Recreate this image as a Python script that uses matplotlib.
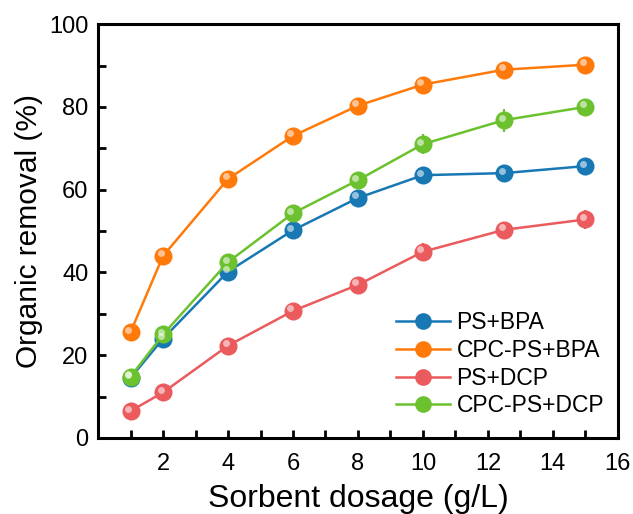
import matplotlib
matplotlib.use("Agg")
import matplotlib.pyplot as plt
import matplotlib.transforms as mtransforms
from matplotlib.lines import Line2D
from matplotlib.ticker import MultipleLocator

plt.rcParams['font.family'] = ['Liberation Sans', 'DejaVu Sans']

dosage = [1, 2, 4, 6, 8, 10, 12.5, 15]

ps_bpa = [14.5, 24.0, 40.2, 50.2, 58.0, 63.5, 64.0, 65.7]
ps_bpa_err = [1.0, 1.2, 1.3, 1.3, 1.5, 1.8, 1.5, 1.2]

cpc_bpa = [25.6, 44.0, 62.6, 73.0, 80.3, 85.4, 89.0, 90.2]
cpc_bpa_err = [1.0, 1.0, 1.0, 1.8, 1.3, 1.8, 1.2, 1.2]

ps_dcp = [6.5, 11.0, 22.3, 30.7, 37.0, 45.0, 50.3, 52.8]
ps_dcp_err = [1.0, 1.2, 1.2, 1.2, 1.3, 2.2, 1.8, 2.2]

cpc_dcp = [14.8, 25.0, 42.5, 54.3, 62.3, 71.0, 76.8, 80.0]
cpc_dcp_err = [1.2, 1.3, 1.5, 1.5, 1.8, 2.5, 2.8, 1.5]

series = [
    ("PS+BPA", ps_bpa, ps_bpa_err, "#1878b4"),
    ("CPC-PS+BPA", cpc_bpa, cpc_bpa_err, "#ff7a0a"),
    ("PS+DCP", ps_dcp, ps_dcp_err, "#eb5a5c"),
    ("CPC-PS+DCP", cpc_dcp, cpc_dcp_err, "#6cc12e"),
]

fig = plt.figure(figsize=(6.33, 5.14), dpi=100)
ax = fig.add_axes([0.155, 0.148, 0.821, 0.805])

shift = mtransforms.ScaledTranslation(-2.5 / 100, 2.5 / 100, fig.dpi_scale_trans)
handles = []
for name, vals, err, col in series:
    ax.errorbar(dosage, vals, yerr=err, color=col, lw=1.8, marker='o', ms=13,
                mec=col, mew=0, capsize=4, elinewidth=1.5, capthick=1.5,
                zorder=3)
    # highlight to fake the shaded sphere look
    ax.plot(dosage, vals, 'o', ms=5, color='white', alpha=0.55, mew=0,
            transform=ax.transData + shift, zorder=4)
    handles.append(Line2D([], [], color=col, lw=1.8, marker='o', ms=12,
                          mew=0, label=name))

ax.set_xlim(0, 16)
ax.set_ylim(0, 100)
ax.xaxis.set_minor_locator(MultipleLocator(1))
ax.yaxis.set_major_locator(MultipleLocator(20))
ax.yaxis.set_minor_locator(MultipleLocator(10))
ax.set_xticks([2, 4, 6, 8, 10, 12, 14, 16])
ax.tick_params(which='both', direction='in', length=6, width=2, labelsize=17)
ax.tick_params(axis='x', pad=11)
ax.tick_params(axis='y', pad=7)
for s in ax.spines.values():
    s.set_linewidth(2.2)

ax.set_xlabel("Sorbent dosage (g/L)", fontsize=23, labelpad=6)
ax.set_ylabel("Organic removal (%)", fontsize=21.5, labelpad=4)

ax.legend(handles=handles, loc='lower left', bbox_to_anchor=(0.555, 0.028),
          borderaxespad=0, frameon=False, fontsize=16.5, handlelength=2.35,
          handletextpad=0.3, labelspacing=0.2)

fig.savefig("out.png", dpi=100)
